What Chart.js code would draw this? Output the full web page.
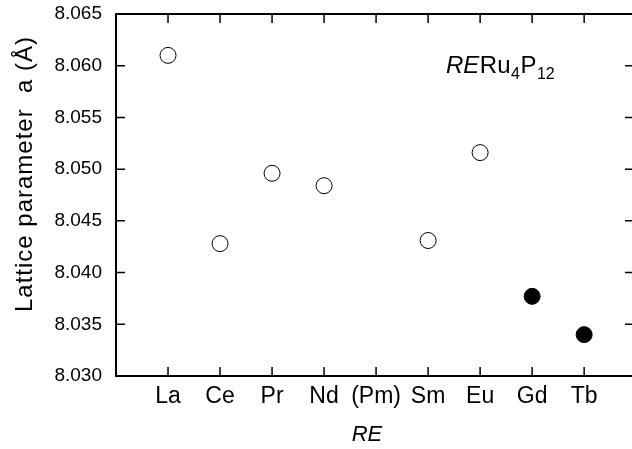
<!DOCTYPE html>
<html>
<head>
<meta charset="utf-8">
<script src="https://cdn.jsdelivr.net/npm/chart.js@4.4.0/dist/chart.umd.min.js"></script>
<style>
  html, body { margin: 0; padding: 0; background: #fff; }
  canvas { display: block; }
</style>
</head>
<body>
<canvas id="latticeChart" width="632" height="449"></canvas>
<script>
// rare earth elements along the x axis
const elements = ["La", "Ce", "Pr", "Nd", "(Pm)", "Sm", "Eu", "Gd", "Tb"];
// lattice parameter (Å), open symbols
const openValues = [8.0610, 8.0428, 8.0496, 8.0484, null, 8.0431, 8.0516, null, null];
// lattice parameter (Å), filled symbols
const filledValues = [null, null, null, null, null, null, null, 8.0377, 8.0340];
const yTicks = [8.030, 8.035, 8.040, 8.045, 8.050, 8.055, 8.060, 8.065];

const FONT = "'Liberation Sans', Arial, sans-serif";

function toPoints(values) {
    return values
        .map((v, i) => (v === null ? null : { x: i + 1, y: v }))
        .filter((p) => p !== null);
}

// frame, inward ticks and the extra text
const framePlugin = {
    id: "frame",
    beforeDatasetsDraw(chart) {
        const { ctx, chartArea: a, scales } = chart;
        const x = scales.x;
        const y = scales.y;
        ctx.save();
        ctx.strokeStyle = "#000";
        ctx.lineWidth = 2;
        ctx.beginPath();
        ctx.moveTo(a.right, a.top);
        ctx.lineTo(a.left, a.top);
        ctx.lineTo(a.left, a.bottom);
        ctx.lineTo(a.right, a.bottom);
        ctx.stroke();

        ctx.lineWidth = 1.5;
        ctx.beginPath();
        elements.forEach((_, i) => {
            const px = x.getPixelForValue(i + 1);
            ctx.moveTo(px, a.top);
            ctx.lineTo(px, a.top + 9);
            ctx.moveTo(px, a.bottom);
            ctx.lineTo(px, a.bottom - 9);
        });
        yTicks.forEach((v) => {
            const py = y.getPixelForValue(v);
            ctx.moveTo(a.left, py);
            ctx.lineTo(a.left + 9, py);
            ctx.moveTo(a.right, py);
            ctx.lineTo(a.right - 7, py);
        });
        ctx.stroke();
        ctx.restore();
    },
    afterDraw(chart) {
        const { ctx } = chart;
        ctx.save();
        ctx.fillStyle = "#000";

        // y axis title
        ctx.save();
        ctx.translate(25, 174);
        ctx.rotate(-Math.PI / 2);
        ctx.font = "24px " + FONT;
        ctx.letterSpacing = "1px";
        ctx.textAlign = "center";
        ctx.textBaseline = "middle";
        ctx.fillText("Lattice parameter  a (\u00C5)", 0, 0);
        ctx.restore();

        // x axis title
        ctx.font = "italic 22px " + FONT;
        ctx.textAlign = "center";
        ctx.textBaseline = "middle";
        ctx.fillText("RE", 367, 435);

        // compound label
        ctx.textAlign = "left";
        ctx.textBaseline = "alphabetic";
        let cx = 446;
        const base = 73;
        const parts = [
            ["italic 24px ", "RE", 0],
            ["24px ", "Ru", 0],
            ["16px ", "4", 6],
            ["24px ", "P", 0],
            ["16px ", "12", 6],
        ];
        parts.forEach(([f, t, dy]) => {
            ctx.font = f + FONT;
            ctx.fillText(t, cx, base + dy);
            cx += ctx.measureText(t).width + 0.5;
        });
        ctx.restore();
    },
};

const chart = new Chart(document.getElementById("latticeChart").getContext("2d"), {
    type: "scatter",
    data: {
        datasets: [
            {
                label: "open",
                data: toPoints(openValues),
                pointStyle: "circle",
                pointRadius: 8,
                pointBorderWidth: 1,
                borderColor: "#000",
                backgroundColor: "#fff",
            },
            {
                label: "filled",
                data: toPoints(filledValues),
                pointStyle: "circle",
                pointRadius: 8,
                pointBorderWidth: 1,
                borderColor: "#000",
                backgroundColor: "#000",
            },
        ],
    },
    options: {
        responsive: false,
        animation: false,
        layout: {
            autoPadding: false,
            padding: { top: 14, right: 0, left: 0, bottom: 0 },
        },
        plugins: {
            legend: { display: false },
            tooltip: { enabled: false },
        },
        scales: {
            x: {
                type: "linear",
                min: 0,
                max: 9.92,
                grid: { display: false, drawTicks: false },
                border: { display: false },
                afterBuildTicks(scale) {
                    scale.ticks = elements.map((_, i) => ({ value: i + 1 }));
                },
                afterFit(scale) {
                    scale.height = 73;
                    scale.paddingLeft = 0;
                    scale.paddingRight = 0;
                },
                ticks: {
                    color: "#000",
                    padding: 7,
                    autoSkip: false,
                    maxRotation: 0,
                    font: { family: FONT, size: 23 },
                    callback: (v) => elements[v - 1],
                },
            },
            y: {
                min: 8.030,
                max: 8.065,
                grid: { display: false, drawTicks: false },
                border: { display: false },
                afterBuildTicks(scale) {
                    scale.ticks = yTicks.map((v) => ({ value: v }));
                },
                afterFit(scale) {
                    scale.width = 116;
                    scale.paddingTop = 0;
                    scale.paddingBottom = 0;
                },
                ticks: {
                    color: "#000",
                    padding: 14,
                    font: { family: FONT, size: 19 },
                    callback: (v) => v.toFixed(3),
                },
            },
        },
    },
    plugins: [framePlugin],
});
</script>
</body>
</html>
